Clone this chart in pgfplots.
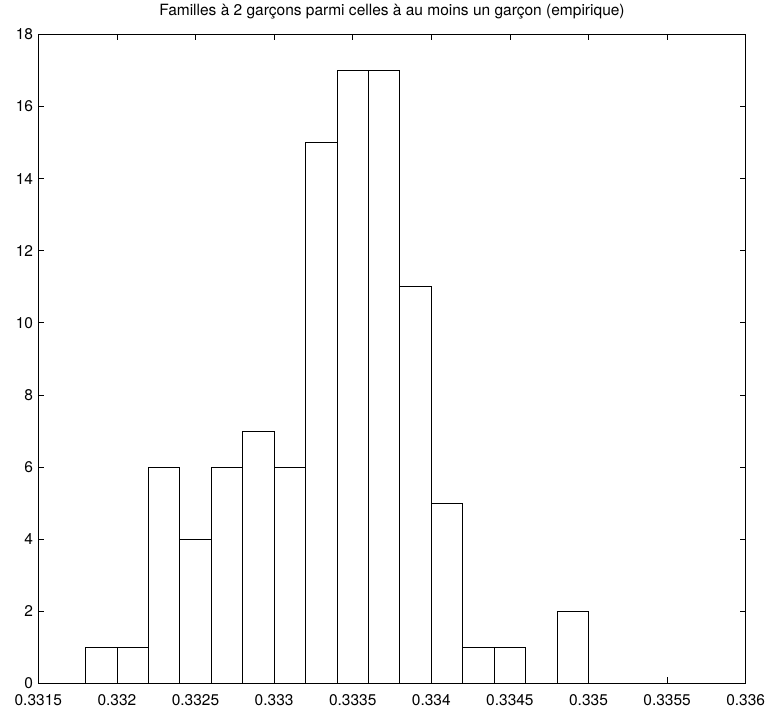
\documentclass[border=0pt]{standalone}
\usepackage{pgfplots}
\pgfplotsset{compat=1.18}
\usepackage{fontspec}
\setmainfont{TeX Gyre Heros}
\begin{document}
\begin{tikzpicture}
\useasboundingbox (-38.3pt,-27.7pt) rectangle (728.7pt,683.3pt);
\begin{axis}[
  at={(0,0)}, anchor=south west,
  width=707.4pt, height=649pt, scale only axis,
  xmin=0.3315, xmax=0.336, ymin=0, ymax=18,
  scaled x ticks=false, scaled y ticks=false,
  xtick={0.3315,0.332,0.3325,0.333,0.3335,0.334,0.3345,0.335,0.3355,0.336},
  xticklabels={0.3315,0.332,0.3325,0.333,0.3335,0.334,0.3345,0.335,0.3355,0.336},
  ytick={0,2,4,6,8,10,12,14,16,18},
  /pgf/number format/assume math mode=true,
  tick align=inside, major tick length=6pt,
  tick style={line width=0.7pt, black},
  axis line style={line width=0.8pt},
  tick label style={font=\fontsize{15.5}{16}\selectfont},
  xticklabel style={anchor=base, inner sep=0pt, yshift=-22.7pt},
  yticklabel style={anchor=east, inner sep=0pt, xshift=-5pt},
  title={Familles à 2 garçons parmi celles à au moins un garçon (empirique)},
  title style={font=\fontsize{15.5}{16}\selectfont, at={(0.5,1)}, anchor=base, yshift=13pt, inner sep=0pt},
]
\addplot[ybar interval, fill=white, draw=black, line width=0.8pt] coordinates {
(0.3318,1) (0.3320,1) (0.3322,6) (0.3324,4) (0.3326,6) (0.3328,7) (0.3330,6) (0.3332,15)
(0.3334,17) (0.3336,17) (0.3338,11) (0.3340,5) (0.3342,1) (0.3344,1) (0.3346,0) (0.3348,2)
(0.3350,0)
};
\end{axis}
\end{tikzpicture}
\end{document}
